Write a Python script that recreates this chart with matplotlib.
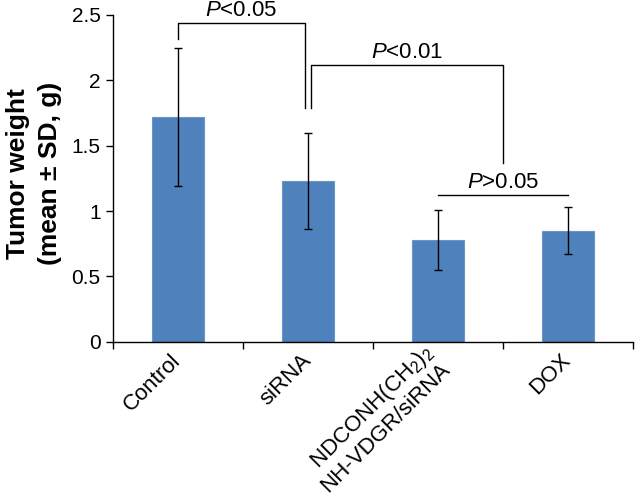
import numpy as np
import matplotlib
matplotlib.use("Agg")
from matplotlib import pyplot as plt

plt.rcParams['font.family'] = ['Liberation Sans', 'DejaVu Sans']
plt.rcParams['mathtext.fontset'] = 'custom'
plt.rcParams['mathtext.rm'] = 'Liberation Sans'
plt.rcParams['mathtext.it'] = 'Liberation Sans:italic'
plt.rcParams['mathtext.bf'] = 'Liberation Sans:bold'

groups = ["Control", "siRNA", "NDCONH(CH$_2$)$_2$\nNH-VDGR/siRNA", "DOX"]
mean_weight = [1.72, 1.23, 0.78, 0.85]
sd_weight = [0.53, 0.365, 0.23, 0.18]

# comparisons: (group a, group b, label)
comparisons = [(0, 1, "$P$<0.05"), (1, 3, "$P$<0.01"), (2, 3, "$P$>0.05")]

fig = plt.figure(figsize=(6.36, 4.99), dpi=100)
ax = fig.add_axes([0.1777, 0.315, 0.8173, 0.655])

x = np.arange(len(groups)) + 0.5
ax.bar(x, mean_weight, width=0.4, color='#4F81BD', edgecolor='#6A95C9',
       linewidth=0.8, zorder=2)
ax.errorbar(x, mean_weight, yerr=sd_weight, fmt='none', ecolor='black',
            elinewidth=1.0, capsize=3, capthick=1.0, zorder=3)

ax.set_xlim(0, len(groups))
ax.set_ylim(0, 2.5)
ax.set_yticks([0, 0.5, 1, 1.5, 2, 2.5])
ax.set_yticklabels(["0", "0.5", "1", "1.5", "2", "2.5"], fontsize=15)
ax.set_xticks(np.arange(len(groups) + 1))
ax.set_xticklabels([])
ax.set_xticks(x, minor=True)
ax.set_xticklabels(groups, minor=True, fontsize=16, rotation=45,
                   ha='right', va='center', rotation_mode='anchor',
                   linespacing=1.05)
ax.tick_params(axis='x', which='minor', length=0, pad=11)
ax.tick_params(axis='both', which='major', length=5, width=1.0, direction='out')
ax.tick_params(axis='y', pad=4)
for s in ['top', 'right']:
    ax.spines[s].set_visible(False)
for s in ['left', 'bottom']:
    ax.spines[s].set_linewidth(1.0)

ax.set_ylabel("Tumor weight\n(mean \u00b1 SD, g)", fontsize=19, fontweight='bold',
              linespacing=1.4)
ax.yaxis.set_label_coords(-0.098, 0.515)

# significance brackets
off = 0.023
lw = 1.0
# Control vs siRNA
a, b, lab = comparisons[0]
xa, xb = x[a], x[b] - off
top = 2.44
ax.plot([xa, xa, xb, xb], [2.32, top, top, 1.786], color='black', lw=lw, clip_on=False)
ax.text((xa + xb) / 2, 2.49, lab, ha='center', va='baseline', fontsize=16, clip_on=False)
# siRNA vs (NDCONH, DOX)
a, b, lab = comparisons[1]
xa, xb = x[a] + off, (x[2] + x[3]) / 2
top = 2.117
ax.plot([xa, xa, xb, xb], [1.79, top, top, 1.37], color='black', lw=lw, clip_on=False)
ax.text((xa + xb) / 2, 2.17, lab, ha='center', va='baseline', fontsize=16)
# NDCONH vs DOX
a, b, lab = comparisons[2]
ax.plot([x[a], x[b]], [1.122, 1.122], color='black', lw=lw)
ax.text((x[a] + x[b]) / 2, 1.176, lab, ha='center', va='baseline', fontsize=16)

fig.savefig("out.png", dpi=100)
